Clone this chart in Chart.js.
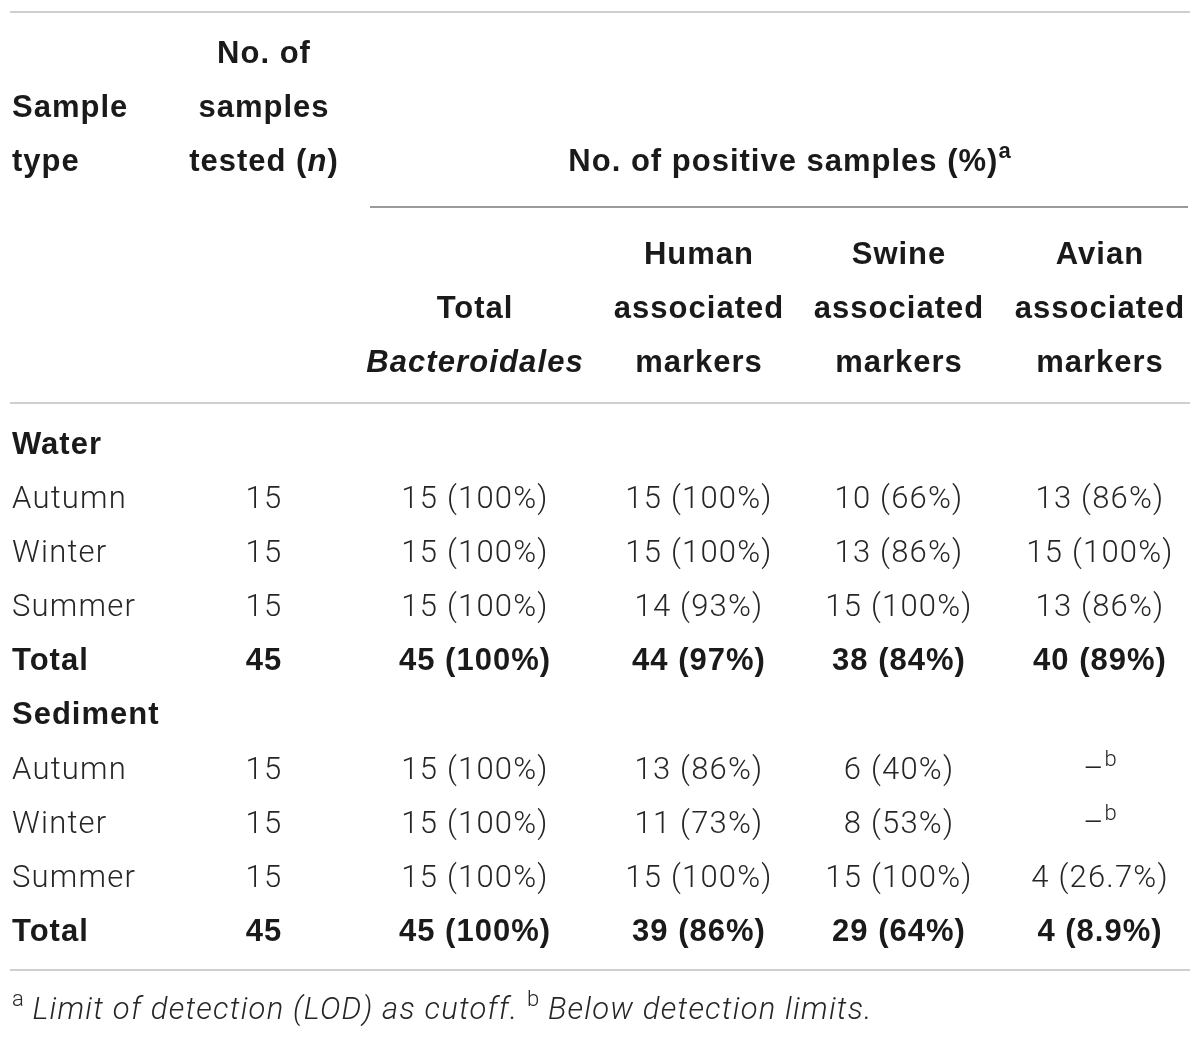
<!DOCTYPE html>
<html lang="en">
<head>
    <meta charset="UTF-8">
    <title>Bacteroidales markers table</title>
    <script src="https://cdn.jsdelivr.net/npm/chart.js"></script>
    <style>
        body { margin: 0; background: #fff; }
        canvas { display: block; }
    </style>
</head>
<body>
    <canvas id="tableChart" width="1200" height="1039"></canvas>

    <script>
        const groups = ['Water', 'Sediment'];
        const seasons = ['Autumn', 'Winter', 'Summer', 'Total'];
        const nTested = [15, 15, 15, 45, 15, 15, 15, 45];
        const totalCount = [15, 15, 15, 45, 15, 15, 15, 45];
        const totalPct = [100, 100, 100, 100, 100, 100, 100, 100];
        const humanCount = [15, 15, 14, 44, 13, 11, 15, 39];
        const humanPct = [100, 100, 93, 97, 86, 73, 100, 86];
        const swineCount = [10, 13, 15, 38, 6, 8, 15, 29];
        const swinePct = [66, 86, 100, 84, 40, 53, 100, 64];
        const avianCount = [13, 15, 13, 40, null, null, 4, 4];
        const avianPct = [86, 100, 86, 89, null, null, 26.7, 8.9];

        // layout (in px units of the hidden linear scales)
        const colX = [12, 264, 475, 699, 899, 1100];
        const rowY = [443, 497, 551, 605, 659, 713, 768, 822, 876, 930];
        const headY = [52, 106, 160];
        const subY = [253, 307, 361];
        const rules = [
            { y: 12, x1: 10, x2: 1190, c: '#cfcfcf' },
            { y: 207, x1: 370, x2: 1188, c: '#9a9a9a' },
            { y: 403, x1: 10, x2: 1190, c: '#cfcfcf' },
            { y: 970, x1: 10, x2: 1190, c: '#cfcfcf' }
        ];

        const LIGHT = 'Roboto, "Liberation Sans", sans-serif';
        const BOLD = '"Liberation Sans", Arial, sans-serif';
        const SIZE = 31;

        function fontOf(r, size) {
            if (r.w === 'b') return (r.i ? 'italic ' : '') + 'bold ' + size + 'px ' + BOLD;
            return (r.i ? 'italic ' : '') + '300 ' + size + 'px ' + LIGHT;
        }
        function spacingOf(r) {
            if (r.sup) return '0px';
            return r.w === 'b' ? (r.i ? '1.1px' : '1px') : '1.2px';
        }

        // draw a line made of runs; align 'left' or 'center'
        function drawRuns(ctx, runs, x, y, align) {
            let total = 0;
            runs.forEach(function (r) {
                ctx.font = fontOf(r, r.sup ? 22 : SIZE);
                ctx.letterSpacing = spacingOf(r);
                r.width = ctx.measureText(r.t).width;
                total += r.width;
            });
            let cx = align === 'center' ? x - total / 2 : x;
            runs.forEach(function (r) {
                ctx.font = fontOf(r, r.sup ? 22 : SIZE);
                ctx.letterSpacing = spacingOf(r);
                ctx.fillStyle = r.w === 'b' ? '#1a1a1a' : '#262626';
                ctx.fillText(r.t, cx, y + 11 - (r.sup ? 13 : 0));
                cx += r.width;
            });
            ctx.letterSpacing = '0px';
        }

        function cell(count, pct) {
            if (count === null) return null;
            return count + ' (' + pct + '%)';
        }

        const tablePlugin = {
            id: 'tablePlugin',
            afterDraw: function (chart) {
                const ctx = chart.ctx;
                const sx = chart.scales.x, sy = chart.scales.y;
                const X = function (v) { return sx.getPixelForValue(v); };
                const Y = function (v) { return sy.getPixelForValue(v); };
                ctx.save();
                ctx.textBaseline = 'alphabetic';
                ctx.textAlign = 'left';

                rules.forEach(function (r) {
                    ctx.strokeStyle = r.c;
                    ctx.lineWidth = 2;
                    ctx.beginPath();
                    ctx.moveTo(X(r.x1), Y(r.y));
                    ctx.lineTo(X(r.x2), Y(r.y));
                    ctx.stroke();
                });

                const B = 'b';
                // column headers
                drawRuns(ctx, [{ t: 'Sample', w: B }], X(colX[0]), Y(headY[1]), 'left');
                drawRuns(ctx, [{ t: 'type', w: B }], X(colX[0]), Y(headY[2]), 'left');
                drawRuns(ctx, [{ t: 'No. of', w: B }], X(colX[1]), Y(headY[0]), 'center');
                drawRuns(ctx, [{ t: 'samples', w: B }], X(colX[1]), Y(headY[1]), 'center');
                drawRuns(ctx, [{ t: 'tested (', w: B }, { t: 'n', w: B, i: true }, { t: ')', w: B }], X(colX[1]), Y(headY[2]), 'center');
                drawRuns(ctx, [{ t: 'No. of positive samples (%)', w: B }, { t: 'a', w: B, sup: true }], X((colX[2] + colX[5]) / 2 + 2), Y(headY[2]), 'center');

                drawRuns(ctx, [{ t: 'Total', w: B }], X(colX[2]), Y(subY[1]), 'center');
                drawRuns(ctx, [{ t: 'Bacteroidales', w: B, i: true }], X(colX[2]), Y(subY[2]), 'center');
                ['Human', 'Swine', 'Avian'].forEach(function (h, k) {
                    drawRuns(ctx, [{ t: h, w: B }], X(colX[3 + k]), Y(subY[0]), 'center');
                    drawRuns(ctx, [{ t: 'associated', w: B }], X(colX[3 + k]), Y(subY[1]), 'center');
                    drawRuns(ctx, [{ t: 'markers', w: B }], X(colX[3 + k]), Y(subY[2]), 'center');
                });

                // body
                const cols = [
                    [totalCount, totalPct], [humanCount, humanPct],
                    [swineCount, swinePct], [avianCount, avianPct]
                ];
                groups.forEach(function (g, gi) {
                    const base = gi * 5;
                    drawRuns(ctx, [{ t: g, w: B }], X(colX[0]), Y(rowY[base]), 'left');
                    seasons.forEach(function (s, si) {
                        const idx = gi * 4 + si;
                        const y = Y(rowY[base + 1 + si]);
                        const w = s === 'Total' ? B : 'l';
                        drawRuns(ctx, [{ t: s, w: w }], X(colX[0]), y, 'left');
                        drawRuns(ctx, [{ t: String(nTested[idx]), w: w }], X(colX[1]), y, 'center');
                        cols.forEach(function (c, ci) {
                            const txt = cell(c[0][idx], c[1][idx]);
                            if (txt === null) {
                                drawRuns(ctx, [{ t: '\u2013', w: w }, { t: 'b', w: w, sup: true }], X(colX[2 + ci]), y, 'center');
                            } else {
                                drawRuns(ctx, [{ t: txt, w: w }], X(colX[2 + ci]), y, 'center');
                            }
                        });
                    });
                });

                // footnote
                drawRuns(ctx, [
                    { t: 'a', sup: true }, { t: ' Limit of detection (LOD) as cutoff. ', i: true },
                    { t: 'b', sup: true }, { t: ' Below detection limits.', i: true }
                ], X(colX[0]), Y(1008), 'left');

                ctx.restore();
            }
        };

        const ctx = document.getElementById('tableChart').getContext('2d');
        const chart = new Chart(ctx, {
            type: 'scatter',
            data: { datasets: [{ data: [] }] },
            options: {
                responsive: false,
                animation: false,
                layout: { padding: 0 },
                plugins: { legend: { display: false }, tooltip: { enabled: false } },
                scales: {
                    x: { type: 'linear', min: 0, max: 1200, display: false },
                    y: { type: 'linear', min: 0, max: 1039, reverse: true, display: false }
                }
            },
            plugins: [tablePlugin]
        });
    </script>
</body>
</html>
